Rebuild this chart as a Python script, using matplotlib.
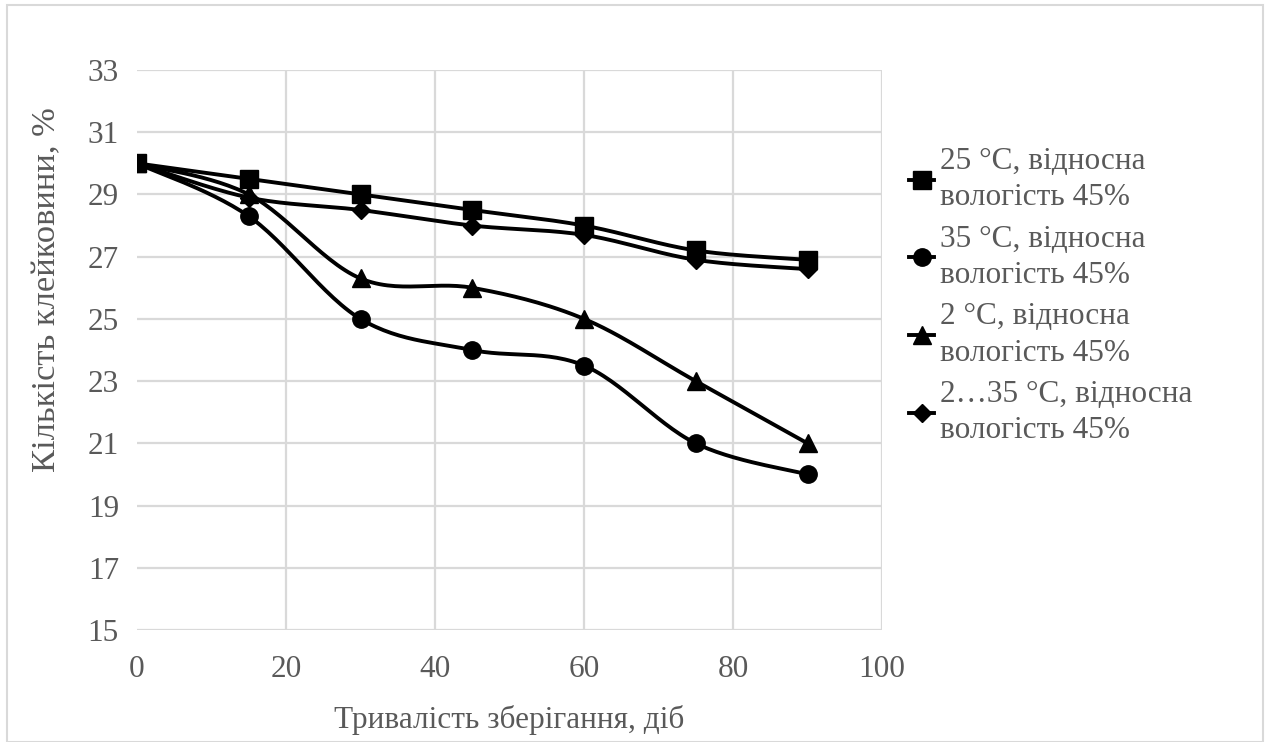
import numpy as np
import matplotlib
matplotlib.use("Agg")
import matplotlib.pyplot as plt
from matplotlib.lines import Line2D
from matplotlib.patches import Rectangle

# Storage time, days
days = [0, 15, 30, 45, 60, 75, 90]

# Gluten content, %
gluten_25c = [30.0, 29.5, 29.0, 28.5, 28.0, 27.2, 26.9]
gluten_35c = [30.0, 28.3, 25.0, 24.0, 23.5, 21.0, 20.0]
gluten_2c = [30.0, 29.0, 26.3, 26.0, 25.0, 23.0, 21.0]
gluten_2_35c = [30.0, 28.9, 28.5, 28.0, 27.7, 26.9, 26.6]

series_labels = [
    "25 °C, відносна\nвологість 45%",
    "35 °C, відносна\nвологість 45%",
    "2 °C, відносна\nвологість 45%",
    "2…35 °C, відносна\nвологість 45%",
]
x_ticks = [0, 20, 40, 60, 80, 100]
y_ticks = [15, 17, 19, 21, 23, 25, 27, 29, 31, 33]

x_title = "Тривалість зберігання, діб"
y_title = "Кількість клейковини, %"

TEXT = "#595959"
GRID = "#d9d9d9"
plt.rcParams["font.family"] = ["Liberation Serif", "DejaVu Serif"]
FS = 22.5


def smooth(x, y, n=30):
    """Catmull-Rom style smoothing through the data points (Bezier segments)."""
    x = np.asarray(x, float)
    y = np.asarray(y, float)
    px = np.concatenate([[x[0]], x, [x[-1]]])
    py = np.concatenate([[y[0]], y, [y[-1]]])
    xs, ys = [], []
    t = np.linspace(0, 1, n)
    for i in range(1, len(px) - 2):
        p0 = np.array([px[i - 1], py[i - 1]])
        p1 = np.array([px[i], py[i]])
        p2 = np.array([px[i + 1], py[i + 1]])
        p3 = np.array([px[i + 2], py[i + 2]])
        c1 = p1 + (p2 - p0) / 6.0
        c2 = p2 - (p3 - p1) / 6.0
        b = ((1 - t) ** 3)[:, None] * p1 + (3 * (1 - t) ** 2 * t)[:, None] * c1 \
            + (3 * (1 - t) * t ** 2)[:, None] * c2 + (t ** 3)[:, None] * p2
        xs.append(b[:, 0])
        ys.append(b[:, 1])
    return np.concatenate(xs), np.concatenate(ys)


fig = plt.figure(figsize=(12.66, 7.42), dpi=100)
ax = fig.add_axes([137 / 1266, 1 - 630 / 742, (882 - 137) / 1266, (630 - 70) / 742])

all_series = [gluten_25c, gluten_35c, gluten_2c, gluten_2_35c]
markers = ["s", "o", "^", "D"]
msizes = [12.5, 12.5, 12.5, 9.5]
LW = 2.8
handles = []
for vals, mk, ms, lab in zip(all_series, markers, msizes, series_labels):
    sx, sy = smooth(days, vals)
    ax.plot(sx, sy, color="black", lw=LW, solid_capstyle="round", zorder=3)
    ax.plot(days, vals, ls="none", marker=mk, ms=ms, color="black", zorder=4)
    handles.append(Line2D([], [], color="black", lw=LW, marker=mk, ms=ms, label=lab))

ax.set_xlim(0, 100)
ax.set_ylim(15, 33)
ax.set_xticks(x_ticks)
ax.set_yticks(y_ticks)
ax.grid(True, color=GRID, lw=1.6, zorder=0)
ax.xaxis.get_gridlines()[0].set_visible(False)
for s in ax.spines.values():
    s.set_visible(False)
ax.tick_params(length=0, labelsize=FS, colors=TEXT)
ax.tick_params(axis="x", pad=18)
ax.tick_params(axis="y", pad=13)

fig.text(509 / 1266, 1 - 720 / 742, x_title, ha="center", va="center", fontsize=FS, color=TEXT)
fig.text(47 / 1266, 1 - 290 / 742, y_title, ha="center", va="center", rotation=90,
         fontsize=24.8, color=TEXT)

leg = fig.legend(handles=handles, loc="upper left", bbox_to_anchor=(909 / 1266, 1 - 147 / 742),
                 frameon=False, fontsize=FS, labelcolor=TEXT, handlelength=0.8,
                 handletextpad=0.2, labelspacing=0.39, borderpad=0, borderaxespad=0)
for txt in leg.get_texts():
    txt.set_linespacing(1.34)

fig.patches.append(Rectangle((7 / 1266, 0), (1263 - 7) / 1266, 1 - 5 / 742,
                             transform=fig.transFigure, fill=False, ec=GRID, lw=1.5))

fig.savefig("out.png", dpi=100, facecolor="white")
